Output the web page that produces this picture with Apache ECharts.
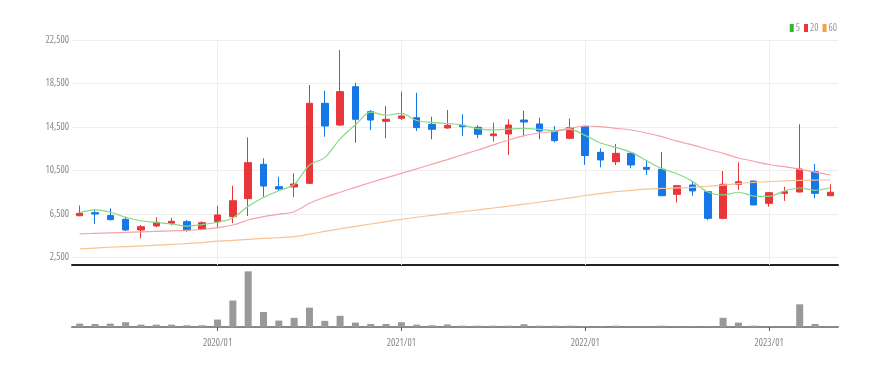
<!DOCTYPE html>
<html>
<head>
<meta charset="utf-8">
<script src="https://cdn.jsdelivr.net/npm/echarts@6/dist/echarts.min.js"></script>
<style>html,body{margin:0;padding:0;background:#fff}#c{width:886px;height:367px}</style>
</head>
<body>
<div id="c"></div>
<script>
const categories = ['2019/04','2019/05','2019/06','2019/07','2019/08','2019/09','2019/10','2019/11','2019/12',
  '2020/01','2020/02','2020/03','2020/04','2020/05','2020/06','2020/07','2020/08','2020/09','2020/10','2020/11','2020/12',
  '2021/01','2021/02','2021/03','2021/04','2021/05','2021/06','2021/07','2021/08','2021/09','2021/10','2021/11','2021/12',
  '2022/01','2022/02','2022/03','2022/04','2022/05','2022/06','2022/07','2022/08','2022/09','2022/10','2022/11','2022/12',
  '2023/01','2023/02','2023/03','2023/04','2023/05'];
const openVals  = [6340,6620,6360,6010,5030,5400,5650,5790,5090,5790,6250,7910,11070,9010,8980,9320,16680,14680,18210,15910,15020,15300,15360,14750,14410,14660,14470,13700,13860,15140,14780,14130,13460,14560,12170,11310,12080,10790,10610,8310,9170,8550,6100,9230,9530,7480,8400,8520,10390,8180];
const closeVals = [6560,6500,5980,5030,5330,5740,5830,5030,5700,6410,7720,11220,9070,8800,9260,16680,14590,17750,15210,15140,15210,15510,14440,14290,14660,14530,13830,13860,14680,14960,14130,13240,14440,11880,11470,12080,11010,10610,8180,9100,8620,6100,9230,9470,7330,8460,8550,10640,8400,8500];
const lowVals   = [6300,5580,5900,4940,4270,5280,5460,4870,5030,5190,5650,6320,8090,8640,8040,9260,13610,14590,13060,14220,13460,15140,14130,13370,14340,13670,13460,13150,11930,13610,13370,13090,13370,11010,10790,11010,10700,10090,8150,7560,8180,5950,6010,8710,7300,7170,7700,8500,7940,8150];
const highVals  = [7280,6930,7020,6250,5490,6200,6160,5950,5830,7260,9100,13550,11620,9930,10240,18360,17840,21580,18570,16060,16430,17750,17650,15450,16060,15670,14660,14900,15210,16000,15360,14590,15280,14590,12540,12940,12200,11400,12200,9150,9470,8600,10450,11250,9560,8500,9010,14750,11100,9230];
const ma5  = [6620,6870,6660,6200,5880,5720,5580,5390,5530,5740,6140,7220,8020,8640,9210,11010,11680,13410,14700,15870,15580,15760,15100,14920,14820,14680,14350,14230,14310,14370,14290,14170,14290,13730,13030,12620,12170,11410,10670,10200,9500,8520,8250,8500,8150,8120,8610,8890,8680,8910];
const ma20 = [4680,4725,4770,4817,4863,4909,4955,5000,5075,5240,5488,5948,6252,6472,6711,7484,8035,8500,8950,9400,9820,10242,10650,11080,11500,11950,12384,12850,13304,13700,13950,14100,14400,14591,14527,14380,14224,13950,13608,13200,12850,12450,12081,11650,11350,11050,10850,10610,10350,10086];
const ma60 = [3300,3370,3440,3500,3560,3630,3700,3780,3870,4000,4080,4170,4250,4330,4420,4650,4900,5130,5360,5580,5800,6012,6200,6380,6550,6720,6880,7050,7220,7400,7580,7780,7980,8200,8380,8550,8680,8780,8860,8900,8950,9050,9150,9300,9400,9480,9540,9600,9620,9630];
const volumes = [330,300,330,470,230,230,230,170,170,730,2600,5470,1470,630,900,1900,600,1100,430,300,300,470,230,170,250,130,130,130,130,270,130,130,130,100,60,130,50,50,130,50,50,50,900,430,130,50,50,2230,300,50];
const yTickLabels = [2500,6500,10500,14500,18500,22500];
const legendNames = ['5','20','60'];

const FONT = "'Open Sans'";
const FW = 'condensed';
const UP = '#e8363a', DOWN = '#1677e6';
const isJan = (i, v) => String(v).endsWith('/01');
const janCats = categories.filter(c => c.endsWith('/01'));

const chart = echarts.init(document.getElementById('c'), null, {renderer: 'canvas'});
const candleData = categories.map((c, i) => [openVals[i], closeVals[i], lowVals[i], highVals[i]]);

chart.setOption({
  animation: false,
  legend: {
    right: 44, top: 18, itemWidth: 4, itemHeight: 8, itemGap: 4, icon: 'rect',
    textStyle: {fontSize: 10, color: '#999', fontFamily: FONT, fontWeight: FW, padding: [0,0,0,-3]},
    data: [
      {name: legendNames[0], itemStyle: {color: '#2eb82e', opacity: 1}},
      {name: legendNames[1], itemStyle: {color: '#e8363a', opacity: 1}},
      {name: legendNames[2], itemStyle: {color: '#f5a040', opacity: 1}}
    ]
  },
  grid: [
    {left: 72, right: 48, top: 40, bottom: 102},
    {left: 72, right: 48, top: 270, bottom: 40}
  ],
  xAxis: [
    {type: 'category', gridIndex: 0, data: categories, boundaryGap: true,
     axisLine: {lineStyle: {color: '#222', width: 2}},
     axisTick: {show: false}, axisLabel: {show: false},
     splitLine: {show: false}},
    {type: 'category', gridIndex: 1, data: categories, boundaryGap: true,
     axisLine: {lineStyle: {color: '#888', width: 2}},
     axisTick: {show: true, interval: isJan, alignWithLabel: true, length: 4, lineStyle: {color: '#555'}},
     axisLabel: {interval: isJan, fontSize: 10, color: '#888', fontFamily: FONT, fontWeight: FW, margin: 11},
     splitLine: {show: false}}
  ],
  yAxis: [
    {type: 'value', gridIndex: 0, min: 1810, max: 22500, scale: true,
     axisLine: {show: false},
     axisTick: {show: false, customValues: yTickLabels},
     axisLabel: {customValues: yTickLabels, fontSize: 10, color: '#888', fontFamily: FONT, fontWeight: FW, margin: 3,
       formatter: v => Number(v).toLocaleString('en-US')},
     splitLine: {show: true, lineStyle: {color: '#eee', width: 1}}},
    {type: 'value', gridIndex: 1, min: 0, max: 5600, show: false, splitLine: {show: false}}
  ],
  series: [
    {type: 'candlestick', name: 'price', xAxisIndex: 0, yAxisIndex: 0, data: candleData, barWidth: 7,
     itemStyle: {color: UP, color0: DOWN, borderColor: UP, borderColor0: DOWN, borderWidth: 1},
     markLine: {silent: true, symbol: 'none', z: 1, label: {show: false},
       lineStyle: {color: '#eee', type: 'solid', width: 1},
       data: janCats.map(c => ({xAxis: c}))}},
    {type: 'line', name: legendNames[0], data: ma5, symbol: 'none', smooth: 0.3,
     itemStyle: {color: '#2eb82e'}, lineStyle: {color: '#86d886', width: 1.2}, z: 3},
    {type: 'line', name: legendNames[1], data: ma20, symbol: 'none', smooth: 0.3,
     itemStyle: {color: '#e8363a'}, lineStyle: {color: '#f5a3aa', width: 1.2}, z: 3},
    {type: 'line', name: legendNames[2], data: ma60, symbol: 'none', smooth: 0.3,
     itemStyle: {color: '#f5a040'}, lineStyle: {color: '#f8c494', width: 1.2}, z: 3},
    {type: 'bar', name: 'volume', xAxisIndex: 1, yAxisIndex: 1, data: volumes, barWidth: 7,
     itemStyle: {color: '#999'}}
  ]
});
</script>
</body>
</html>
